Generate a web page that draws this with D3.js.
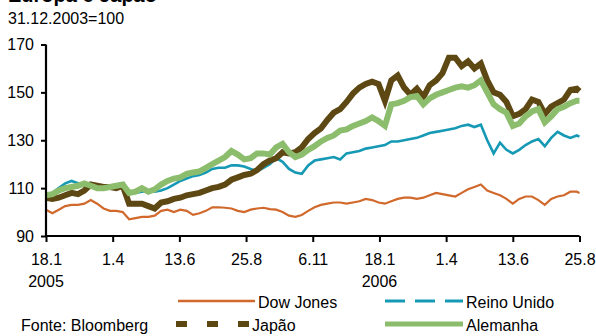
<!DOCTYPE html>
<html>
<head>
<meta charset="utf-8">
<script src="https://cdn.jsdelivr.net/npm/d3@7/dist/d3.min.js"></script>
<style>
  html, body { margin: 0; padding: 0; background: #fff; }
  svg { display: block; font-family: "Liberation Sans", Arial, sans-serif; }
</style>
</head>
<body>
<svg id="chart" width="596" height="336"></svg>
<script>
// Weekly closes, index 31.12.2003 = 100
const startDate = "2005-01-18";
const endDate = "2006-08-25";

const dowJones = [
  101, 99.5, 101, 102.5, 103, 103, 103.5, 105, 103.5, 101.5,
  100.5, 100.5, 100, 97, 97.5, 98, 98, 98.5, 100.5, 101,
  100, 101, 100.5, 98.8, 99.5, 100.5, 102, 102, 101.8, 101.5,
  100.5, 100, 101, 101.5, 101.8, 101.2, 101, 100, 98.5, 98,
  98.8, 100.5, 102, 103, 103.5, 104, 104, 103.5, 104, 104.5,
  105.5, 105, 104, 103.5, 104.5, 105.5, 106, 106, 105.5, 106,
  107, 108, 107.5, 107, 106.5, 108, 109.5, 110.5, 111.5, 109,
  108, 107, 105.5, 103.5, 105.5, 106.5, 106.5, 105, 103, 105.5,
  106.5, 107, 108.5, 108.5, 108
];
const reinoUnido = [
  107.5, 108, 110, 112, 113, 112, 111, 111.5, 111, 110.5,
  110, 110.5, 110, 108.5, 108, 108.5, 109, 108.5, 109, 110,
  111.5, 113, 114, 115, 115.5, 116.5, 118, 118.5, 118.5, 119.5,
  119.5, 119, 118, 117, 118.5, 120, 122.5, 121, 118, 116.5,
  116, 119.5, 121.5, 122, 122.5, 123, 122, 124.5, 125, 125.5,
  126.5, 127, 127.5, 128, 129.5, 129.5, 130, 130.5, 131, 132,
  133, 133.5, 134, 134.5, 135, 136, 136.5, 135.5, 136.5, 130,
  124.5, 129, 126, 124.5, 126, 128, 129.5, 130.5, 127.5, 131,
  133.5, 132, 131, 132, 131.5
];
const japao = [
  106, 105.5, 106, 107, 108, 107.5, 109, 111.5, 111, 110.5,
  110.5, 110, 111, 103.5, 103.5, 103.5, 102.5, 101.5, 104, 104.5,
  105.5, 106, 107, 107.5, 108, 109, 110, 110.5, 111.5, 113.5,
  114.5, 115.5, 116, 117.5, 120, 121.5, 122.5, 125, 124.5, 125,
  127, 130.5, 133, 135, 138.5, 141.5, 143, 146, 149.5, 152,
  153.5, 154.5, 153.5, 146.5, 155, 157, 152, 149, 151.5, 148,
  153, 155, 158, 164.5, 164.5, 161, 163, 160, 162, 155,
  150, 149, 146, 140, 141, 143, 147, 146, 141, 144,
  145.5, 147, 151, 151.5, 150.5
];
const alemanha = [
  107, 107.5, 109, 110, 110.5, 111, 112, 111, 110, 110,
  110.5, 111, 111.5, 108, 108.5, 110, 108.5, 109.5, 111.5, 113,
  114, 114.5, 116, 116.5, 117, 118.5, 120, 121.5, 123, 125.5,
  124, 122, 122.5, 124.5, 124.5, 124, 127, 128.5, 125, 123,
  124, 126, 127.5, 129.5, 131, 132, 134, 134.5, 136, 137,
  138, 139.5, 138, 136, 145, 145.5, 146.5, 148, 148.5, 145,
  147.5, 149, 150, 151, 152, 152.5, 152, 153, 155, 150,
  145, 143, 141.5, 136, 137, 140, 142, 143, 137.5, 140,
  143, 144, 145.5, 146.5, 146.5
];

const xTickDates = ["2005-01-18", "2005-04-01", "2005-06-13", "2005-08-25", "2005-11-06",
                    "2006-01-18", "2006-04-01", "2006-06-13", "2006-08-25"];
const xTickLabels = ["18.1", "1.4", "13.6", "25.8", "6.11", "18.1", "1.4", "13.6", "25.8"];
const yearLabels = [["2005-01-18", "2005"], ["2006-01-18", "2006"]];
const yTicks = [90, 110, 130, 150, 170];

const seriesNames = ["Dow Jones", "Reino Unido", "Japão", "Alemanha"];
const seriesColors = ["#d0692b", "#1699b4", "#5d4713", "#8bbd6d"];

const parse = d3.utcParse("%Y-%m-%d");
const t0 = parse(startDate);
// one observation per week, closing on the final day of the window
const dates = d3.range(84).map(i => d3.utcDay.offset(t0, 7 * i)).concat([parse(endDate)]);

const svg = d3.select("#chart");
const x = d3.scaleUtc().domain([t0, parse(endDate)]).range([46, 579.5]);
const y = d3.scaleLinear().domain([90, 170]).range([236, 44.5]);

// titles
svg.append("text").attr("x", 8).attr("y", 2)
  .attr("font-size", 20).attr("font-weight", "bold").text("Europa e Japão");
svg.append("text").attr("x", 8).attr("y", 24)
  .attr("font-size", 16).text("31.12.2003=100");

// series
const line = d3.line().x(d => x(d[0])).y(d => y(d[1]));
const series = [
  { values: dowJones, color: seriesColors[0], width: 2.2 },
  { values: reinoUnido, color: seriesColors[1], width: 2.6 },
  { values: japao, color: seriesColors[2], width: 6 },
  { values: alemanha, color: seriesColors[3], width: 6 }
];
series.forEach(s => {
  svg.append("path")
    .datum(s.values.map((v, i) => [dates[i], v]))
    .attr("fill", "none")
    .attr("stroke", s.color)
    .attr("stroke-width", s.width)
    .attr("stroke-linejoin", "miter")
    .attr("d", line);
});

// y axis
const yAxis = svg.append("g").attr("transform", "translate(46,0)")
  .call(d3.axisLeft(y).tickValues(yTicks).tickSize(5).tickPadding(7).tickFormat(d3.format("d")));
// x axis
const xAxis = svg.append("g").attr("transform", "translate(0,236)")
  .call(d3.axisBottom(x).tickValues(xTickDates.map(parse)).tickSize(6).tickPadding(12)
    .tickFormat((d, i) => xTickLabels[i]));

[yAxis, xAxis].forEach(g => {
  g.select(".domain").attr("stroke", "#000").attr("stroke-width", 2.2);
  g.selectAll(".tick line").attr("stroke", "#000").attr("stroke-width", 2);
  g.selectAll(".tick text").attr("font-size", 16).attr("fill", "#000")
    .attr("font-family", "'Liberation Sans', Arial, sans-serif");
});
xAxis.select(".domain").attr("d", "M46,0H579.5");
yAxis.select(".domain").attr("d", "M0,236V44.5");

svg.append("g").selectAll("text").data(yearLabels).join("text")
  .attr("x", d => x(parse(d[0]))).attr("y", 287)
  .attr("text-anchor", "middle").attr("font-size", 16).text(d => d[1]);

// source
svg.append("text").attr("x", 21).attr("y", 331).attr("font-size", 16).text("Fonte: Bloomberg");

// legend
const legend = [
  { name: seriesNames[0], color: seriesColors[0], x1: 178, x2: 255, y: 301, w: 2.5, dash: null },
  { name: seriesNames[1], color: seriesColors[1], x1: 385, x2: 463, y: 301, w: 3, dash: "20,10" },
  { name: seriesNames[2], color: seriesColors[2], x1: 176, x2: 249, y: 324, w: 6, dash: "11,20" },
  { name: seriesNames[3], color: seriesColors[3], x1: 385, x2: 463, y: 324, w: 5, dash: null }
];
const lg = svg.append("g").selectAll("g").data(legend).join("g");
lg.append("line")
  .attr("x1", d => d.x1).attr("x2", d => d.x2)
  .attr("y1", d => d.y).attr("y2", d => d.y)
  .attr("stroke", d => d.color).attr("stroke-width", d => d.w)
  .attr("stroke-dasharray", d => d.dash);
lg.append("text")
  .attr("x", d => d.x2 + 3).attr("y", d => d.y + 7)
  .attr("font-size", 16).text(d => d.name);
</script>
</body>
</html>
